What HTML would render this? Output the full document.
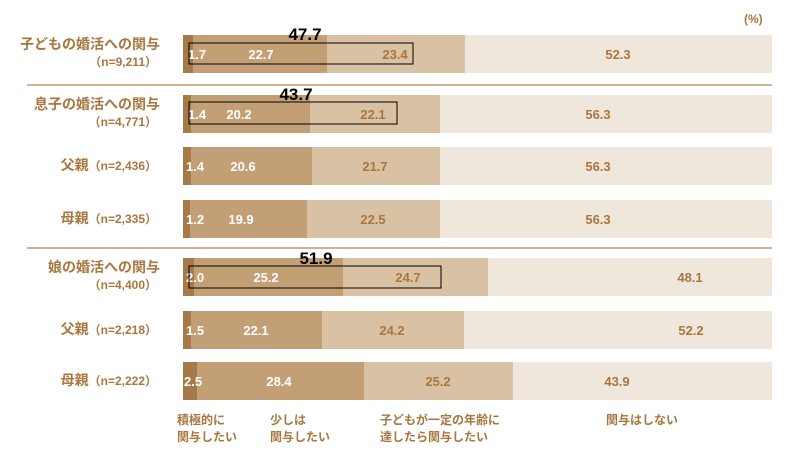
<!DOCTYPE html>
<html><head><meta charset="utf-8"><style>
body{margin:0;background:#fff}
svg{display:block;font-family:"Liberation Sans","Noto Sans CJK JP",sans-serif;font-weight:bold}
.w{fill:#fff;font-size:13px}
.b{fill:#a8773f;font-size:13px}
.l{fill:#a8773f;font-size:14px;text-anchor:end}
.n{fill:#a8773f;font-size:12px;text-anchor:end}
.t{fill:#000;font-size:17px;text-anchor:middle}
.g{fill:#a8773f;font-size:12px}
</style></head><body>
<svg width="800" height="452" viewBox="0 0 800 452">
<text x="744" y="23" class="b" style="font-size:12px">(%)</text>
<line x1="27" y1="85" x2="772" y2="85" stroke="#b08355" stroke-width="1.3"/>
<line x1="27" y1="248" x2="772" y2="248" stroke="#b08355" stroke-width="1.3"/>
<!-- row1 -->
<g transform="translate(0,35)">
<rect x="183" width="10" height="38" fill="#a57a48"/><rect x="193" width="134" height="38" fill="#c29f74"/><rect x="327" width="138" height="38" fill="#d9c1a4"/><rect x="465" width="307" height="38" fill="#efe6dc"/>
<text x="188" y="24" class="w">1.7</text><text x="261" y="24" class="w" text-anchor="middle">22.7</text><text x="395" y="24" class="b" text-anchor="middle">23.4</text><text x="618" y="24" class="b" text-anchor="middle">52.3</text>
<rect x="189" y="8" width="224" height="21" fill="none" stroke="#000" stroke-width="1"/>
<text x="305" y="5" class="t">47.7</text>
<text x="160" y="14" class="l">子どもの婚活への関与</text><text x="157" y="31" class="n">（n=9,211）</text>
</g>
<!-- row2 -->
<g transform="translate(0,95)">
<rect x="183" width="9" height="38" fill="#a57a48"/><rect x="191" width="120" height="38" fill="#c29f74"/><rect x="310" width="131" height="38" fill="#d9c1a4"/><rect x="440" width="332" height="38" fill="#efe6dc"/>
<text x="188" y="24" class="w">1.4</text><text x="239" y="24" class="w" text-anchor="middle">20.2</text><text x="373" y="24" class="b" text-anchor="middle">22.1</text><text x="598" y="24" class="b" text-anchor="middle">56.3</text>
<rect x="189" y="7" width="208" height="22" fill="none" stroke="#000" stroke-width="1"/>
<text x="296" y="5" class="t">43.7</text>
<text x="160" y="14" class="l">息子の婚活への関与</text><text x="157" y="31" class="n">（n=4,771）</text>
</g>
<!-- row3 -->
<g transform="translate(0,147)">
<rect x="183" width="9" height="38" fill="#a57a48"/><rect x="191" width="122" height="38" fill="#c29f74"/><rect x="312" width="129" height="38" fill="#d9c1a4"/><rect x="440" width="332" height="38" fill="#efe6dc"/>
<text x="186" y="24" class="w">1.4</text><text x="243" y="24" class="w" text-anchor="middle">20.6</text><text x="375" y="24" class="b" text-anchor="middle">21.7</text><text x="598" y="24" class="b" text-anchor="middle">56.3</text>
<text x="157" y="23" class="l">父親<tspan style="font-size:12px">（n=2,436）</tspan></text>
</g>
<!-- row4 -->
<g transform="translate(0,200)">
<rect x="183" width="8" height="38" fill="#a57a48"/><rect x="190" width="118" height="38" fill="#c29f74"/><rect x="307" width="133" height="38" fill="#d9c1a4"/><rect x="440" width="332" height="38" fill="#efe6dc"/>
<text x="186" y="24" class="w">1.2</text><text x="241" y="24" class="w" text-anchor="middle">19.9</text><text x="373" y="24" class="b" text-anchor="middle">22.5</text><text x="598" y="24" class="b" text-anchor="middle">56.3</text>
<text x="157" y="23" class="l">母親<tspan style="font-size:12px">（n=2,335）</tspan></text>
</g>
<!-- row5 -->
<g transform="translate(0,258)">
<rect x="183" width="12" height="38" fill="#a57a48"/><rect x="194" width="150" height="38" fill="#c29f74"/><rect x="343" width="146" height="38" fill="#d9c1a4"/><rect x="488" width="284" height="38" fill="#efe6dc"/>
<text x="186" y="24" class="w">2.0</text><text x="266" y="24" class="w" text-anchor="middle">25.2</text><text x="408" y="24" class="b" text-anchor="middle">24.7</text><text x="690" y="24" class="b" text-anchor="middle">48.1</text>
<rect x="189" y="8" width="252" height="22" fill="none" stroke="#000" stroke-width="1"/>
<text x="316" y="6" class="t">51.9</text>
<text x="160" y="14" class="l">娘の婚活への関与</text><text x="157" y="31" class="n">（n=4,400）</text>
</g>
<!-- row6 -->
<g transform="translate(0,311)">
<rect x="183" width="9" height="38" fill="#a57a48"/><rect x="191" width="132" height="38" fill="#c29f74"/><rect x="322" width="143" height="38" fill="#d9c1a4"/><rect x="464" width="308" height="38" fill="#efe6dc"/>
<text x="186" y="24" class="w">1.5</text><text x="256" y="24" class="w" text-anchor="middle">22.1</text><text x="392" y="24" class="b" text-anchor="middle">24.2</text><text x="691" y="24" class="b" text-anchor="middle">52.2</text>
<text x="157" y="23" class="l">父親<tspan style="font-size:12px">（n=2,218）</tspan></text>
</g>
<!-- row7 -->
<g transform="translate(0,362)">
<rect x="183" width="15" height="38" fill="#a57a48"/><rect x="197" width="168" height="38" fill="#c29f74"/><rect x="364" width="150" height="38" fill="#d9c1a4"/><rect x="513" width="259" height="38" fill="#efe6dc"/>
<text x="184" y="24" class="w">2.5</text><text x="279" y="24" class="w" text-anchor="middle">28.4</text><text x="438" y="24" class="b" text-anchor="middle">25.2</text><text x="617" y="24" class="b" text-anchor="middle">43.9</text>
<text x="157" y="23" class="l">母親<tspan style="font-size:12px">（n=2,222）</tspan></text>
</g>
<!-- legend -->
<text x="177" y="424" class="g">積極的に</text><text x="177" y="441" class="g">関与したい</text>
<text x="270" y="424" class="g">少しは</text><text x="270" y="441" class="g">関与したい</text>
<text x="380" y="424" class="g">子どもが一定の年齢に</text><text x="380" y="441" class="g">達したら関与したい</text>
<text x="606" y="424" class="g">関与はしない</text>
</svg>
</body></html>
